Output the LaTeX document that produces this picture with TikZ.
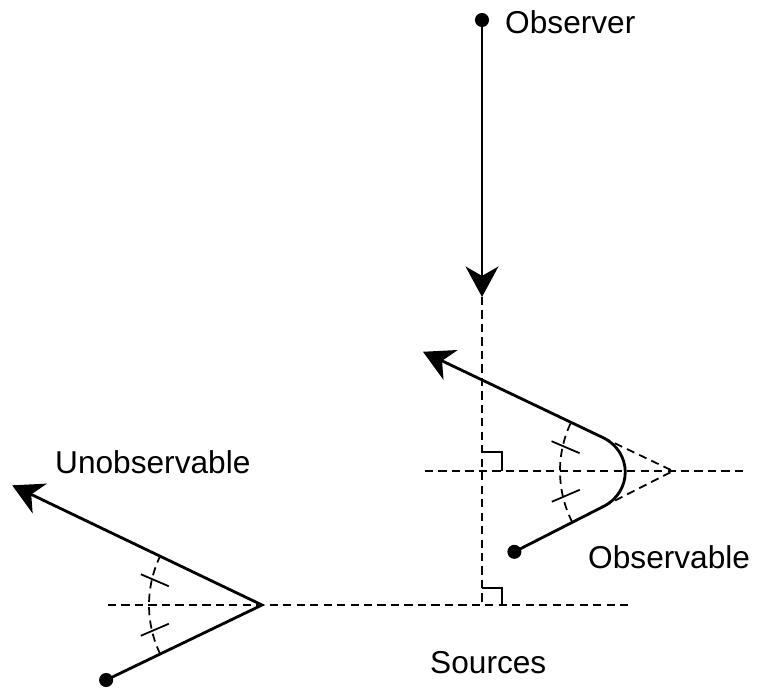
\documentclass[tikz,border=0pt]{standalone}
\usepackage{fontspec}
\setmainfont{Liberation Sans}
\usetikzlibrary{arrows.meta,calc}

\tikzset{
  ray/.style={line width=2.4pt},
  guide/.style={line width=1.5pt, dash pattern=on 7pt off 4.5pt},
  tickmark/.style={line width=1.5pt},
  dot/.style={circle, fill, inner sep=0pt, minimum size=12pt},
  caption/.style={font=\fontsize{27}{32}\selectfont, inner sep=0pt, anchor=base west},
  bigtip/.style={-{Stealth[length=26pt,width=28pt,inset=8pt]}}
}

\begin{document}
\begin{tikzpicture}[x=0.03cm,y=-0.03cm]
\useasboundingbox (0,0) rectangle (758,690);

% Observer
\node[dot] (observer) at (482,20) {};
\node[caption] (observertext) at (505,33) {Observer};
\coordinate (foot) at (482,297);
\draw[ray, bigtip] (observer.center) -- (foot);

% Guide lines
\coordinate (upperfoot) at (482,471);
\coordinate (lowerfoot) at (482,605);
\coordinate (upperstart) at (425,471);
\coordinate (upperend) at (748,471);
\coordinate (lowerstart) at (108,605);
\coordinate (lowerend) at (633,605);
\draw[guide] (foot) -- (lowerfoot);
\draw[guide] (upperstart) -- (upperend);
\draw[guide] (lowerstart) -- (lowerend);

% Right angles
\draw[tickmark] ($(upperfoot)+(0,-19)$) -| ($(upperfoot)+(20,0)$);
\draw[tickmark] ($(lowerfoot)+(0,-17)$) -| ($(lowerfoot)+(20,0)$);

% Observable
\coordinate (rvertex) at (673,471);
\coordinate (rtip) at ($(rvertex)+(205.5:277)$);
\node[dot] (rsource) at ($(rvertex)+(153:178)$) {};
\coordinate (rtop) at ($(rvertex)+(205.5:78)$);
\coordinate (rbottom) at ($(rvertex)+(153:78)$);
\draw[ray, bigtip] (rsource.center) -- (rbottom)
  .. controls ($(rvertex)+(153:45)$) and ($(rvertex)+(205.5:45)$) .. (rtop) -- (rtip);
\draw[guide] (rtop) -- (rvertex) -- (rbottom);
\draw[guide] ($(rvertex)+(153:113)$) arc[start angle=153, end angle=205.5, radius=113];
\draw[tickmark] ($(rvertex)+(192.5:110)+(-14,-6)$) -- +(28,12);
\draw[tickmark] ($(rvertex)+(167:110)+(-14,6)$) -- +(28,-12);
\node[caption] (rtext) at (588,568) {Observable};

% Unobservable
\coordinate (lvertex) at (262,605);
\coordinate (ltip) at ($(lvertex)+(205.6:277)$);
\node[dot] (lsource) at ($(lvertex)+(154.3:173)$) {};
\draw[ray, bigtip] (lsource.center) -- (lvertex) -- (ltip);
\draw[guide] ($(lvertex)+(154.3:113)$) arc[start angle=154.3, end angle=205.6, radius=113];
\draw[tickmark] ($(lvertex)+(193:110)+(-14,-6)$) -- +(28,12);
\draw[tickmark] ($(lvertex)+(167:110)+(-14,6)$) -- +(28,-12);
\node[caption] (ltext) at (55,473) {Unobservable};

% Sources
\node[caption] (sourcetext) at (430,673) {Sources};

\end{tikzpicture}
\end{document}
